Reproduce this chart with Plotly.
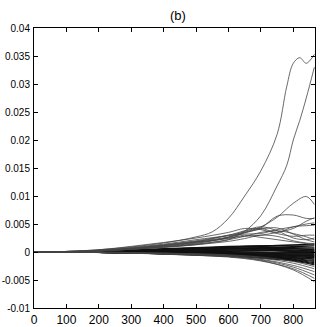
import plotly.graph_objects as go

# shared x grid for the dense band of curves
x_band = [0, 60, 100, 200, 300, 400, 500, 600, 700, 800, 865]

band_lines = [
    [0, 0, 0.00005, 0.0002, 0.0004, 0.0006, 0.0008, 0.0010, 0.0011, 0.0012, 0.0012],
    [0, 0, 0.00005, 0.00015, 0.0003, 0.0005, 0.0007, 0.0009, 0.0010, 0.0010, 0.0009],
    [0, 0, 0.00003, 0.00015, 0.0003, 0.0004, 0.0006, 0.0007, 0.0008, 0.0008, 0.0007],
    [0, 0, 0.00003, 0.0001, 0.00025, 0.0004, 0.0005, 0.0006, 0.0006, 0.0006, 0.0005],
    [0, 0, 0.00003, 0.0001, 0.0002, 0.0003, 0.0004, 0.0005, 0.0005, 0.0004, 0.0003],
    [0, 0, 0.00002, 0.0001, 0.0002, 0.0003, 0.0003, 0.0004, 0.0003, 0.0003, 0.0002],
    [0, 0, 0.00002, 0.00005, 0.0001, 0.0002, 0.0002, 0.0003, 0.0003, 0.0002, 0.0001],
    [0, 0, 0.00001, 0.00005, 0.0001, 0.0001, 0.0002, 0.0002, 0.0002, 0.0001, 0.0],
    [0, 0, 0.00001, 0.00003, 0.00005, 0.0001, 0.0001, 0.0001, 0.0, -0.0001, -0.0001],
    [0, 0, 0, 0, 0, 0, 0, 0, -0.0001, -0.0002, -0.0002],
    [0, 0, 0, 0, 0, 0, -0.0001, -0.0001, -0.0002, -0.0003, -0.0003],
    [0, 0, -0.00001, -0.00003, -0.00005, -0.0001, -0.0001, -0.0002, -0.0003, -0.0004, -0.0004],
    [0, 0, 0, -0.00002, -0.00005, -0.0001, -0.00015, -0.0002, -0.0004, -0.0005, -0.0005],
    [0, 0, -0.00001, -0.00003, -0.00008, -0.0001, -0.0002, -0.0003, -0.0004, -0.0006, -0.0006],
    [0, 0, -0.00001, -0.00005, -0.0001, -0.00015, -0.00025, -0.00035, -0.0005, -0.0006, -0.0007],
    [0, 0, -0.00002, -0.00005, -0.0001, -0.0002, -0.0003, -0.0004, -0.0005, -0.0007, -0.0008],
    [0, 0, -0.00002, -0.00005, -0.0001, -0.0002, -0.0003, -0.0004, -0.0006, -0.0008, -0.0009],
    [0, 0, -0.00002, -0.00006, -0.00012, -0.0002, -0.0003, -0.0005, -0.0007, -0.0009, -0.0010],
    [0, 0, -0.00002, -0.00007, -0.00013, -0.0002, -0.00035, -0.0005, -0.0007, -0.0010, -0.0012],
    [0, 0, -0.00003, -0.00008, -0.00015, -0.00025, -0.0004, -0.00055, -0.0008, -0.0011, -0.0013],
    [0, 0, -0.00003, -0.00008, -0.00015, -0.00025, -0.0004, -0.0006, -0.0009, -0.0012, -0.0015],
    [0, 0, -0.00003, -0.0001, -0.00017, -0.0003, -0.00045, -0.00065, -0.0009, -0.0013, -0.0017],
    [0, 0, -0.00003, -0.0001, -0.0002, -0.0003, -0.0005, -0.0007, -0.0010, -0.0014, -0.0019],
    [0, 0, -0.00003, -0.0001, -0.0002, -0.00035, -0.0005, -0.0007, -0.0010, -0.0015, -0.0021],
    [0, 0, -0.00004, -0.0001, -0.0002, -0.00035, -0.00055, -0.0008, -0.0011, -0.0016, -0.0023],
    [0, 0, 0.00005, 0.0002, 0.00035, 0.0005, 0.0007, 0.0009, 0.0011, 0.0013, 0.0014],
    [0, 0, 0.00005, 0.00015, 0.0003, 0.0005, 0.0006, 0.0008, 0.0007, 0.0006, 0.0004],
    [0, 0, 0.00004, 0.00012, 0.00025, 0.0004, 0.0005, 0.0006, 0.0004, 0.0001, -0.0001],
]

# curves that drift below the band near the end
low_lines = [
    [0, 0, -0.00003, -0.0001, -0.0002, -0.0003, -0.0005, -0.0008, -0.0015, -0.0032, -0.0053],
    [0, 0, -0.00003, -0.0001, -0.0002, -0.0004, -0.0006, -0.0009, -0.0016, -0.0030, -0.0047],
    [0, 0, 0, -0.0001, -0.0002, -0.0003, -0.0005, -0.0008, -0.0014, -0.0027, -0.0041],
    [0, 0, 0, -0.0001, -0.0002, -0.0003, -0.0004, -0.0007, -0.0013, -0.0024, -0.0035],
    [0, 0, 0, 0, -0.0001, -0.0002, -0.0004, -0.0006, -0.0011, -0.0020, -0.0030],
    [0, 0, 0, 0, -0.0001, -0.0002, -0.0003, -0.0005, -0.0009, -0.0017, -0.0026],
]

# curves that climb above the band
x_up = [0, 60, 100, 200, 300, 400, 500, 600, 650, 700, 750, 800, 840, 865]
up_lines = [
    [0, 0, 0, 0.0002, 0.0005, 0.0009, 0.0015, 0.0026, 0.0035, 0.0045, 0.0062, 0.0087, 0.0099, 0.0085],
    [0, 0, 0, 0.0002, 0.0006, 0.0011, 0.0018, 0.0030, 0.0035, 0.0043, 0.0064, 0.0066, 0.0060, 0.0060],
    [0, 0, 0, 0.0002, 0.0005, 0.0010, 0.0016, 0.0025, 0.0028, 0.0030, 0.0035, 0.0042, 0.0055, 0.0061],
    [0, 0, 0, 0.0003, 0.0007, 0.0013, 0.0020, 0.0029, 0.0032, 0.0033, 0.0040, 0.0045, 0.0050, 0.0052],
    [0, 0, 0, 0.0002, 0.0006, 0.0012, 0.0019, 0.0027, 0.0037, 0.0042, 0.0035, 0.0045, 0.0047, 0.0048],
    [0, 0, 0.0001, 0.0004, 0.0010, 0.0017, 0.0025, 0.0035, 0.0042, 0.0040, 0.0033, 0.0028, 0.0030, 0.0030],
    [0, 0, 0.0001, 0.0003, 0.0008, 0.0014, 0.0022, 0.0030, 0.0038, 0.0045, 0.0038, 0.0025, 0.0022, 0.0025],
    [0, 0, 0, 0.0002, 0.0006, 0.0011, 0.0017, 0.0026, 0.0034, 0.0041, 0.0043, 0.0032, 0.0022, 0.0018],
    [0, 0, 0, 0.0002, 0.0005, 0.0009, 0.0014, 0.0022, 0.0028, 0.0035, 0.0038, 0.0033, 0.0027, 0.0022],
    [0, 0, 0.0001, 0.0003, 0.0007, 0.0012, 0.0018, 0.0024, 0.0030, 0.0026, 0.0022, 0.0018, 0.0015, 0.0013],
    [0, 0, 0, 0.0002, 0.0005, 0.0008, 0.0013, 0.0019, 0.0024, 0.0030, 0.0028, 0.0020, 0.0016, 0.0015],
]

# the two large excursions
x_big = [0, 50, 100, 200, 300, 400, 500, 550, 600, 650, 700, 750, 780, 800, 820, 840, 865]
big_a = [0, 0, 0.0001, 0.0004, 0.0009, 0.0016, 0.0027, 0.0036, 0.0060, 0.0100, 0.0145,
         0.0210, 0.0296, 0.0337, 0.0347, 0.0337, 0.0353]
big_b = [0, 0, 0, 0.0002, 0.0005, 0.0009, 0.0013, 0.0017, 0.0022, 0.0037, 0.0065,
         0.0118, 0.0155, 0.0200, 0.0235, 0.0275, 0.0330]

y_ticks = [-0.01, -0.005, 0, 0.005, 0.01, 0.015, 0.02, 0.025, 0.03, 0.035, 0.04]
y_labels = ["-0.01", "-0.005", "0", "0.005", "0.01", "0.015", "0.02", "0.025", "0.03", "0.035", "0.04"]
x_ticks = [0, 100, 200, 300, 400, 500, 600, 700, 800]

FONT = "Liberation Sans, Arial, sans-serif"

fig = go.Figure()


def add_curve(xs, ys, color="#222222", width=0.8):
    fig.add_trace(
        go.Scatter(x=xs, y=ys, mode="lines", line=dict(color=color, width=width, shape="spline"),
                   showlegend=False, hoverinfo="skip")
    )


for ys in band_lines:
    add_curve(x_band, ys, color="#111111", width=1.1)
for ys in low_lines:
    add_curve(x_band, ys, color="#444444")
for ys in up_lines:
    add_curve(x_up, ys, color="#444444")
add_curve(x_big, big_a, color="#444444")
add_curve(x_big, big_b, color="#444444")

fig.update_layout(
    width=327,
    height=327,
    margin=dict(l=34, r=12, t=28, b=19, autoexpand=False),
    paper_bgcolor="white",
    plot_bgcolor="white",
    font=dict(family=FONT, color="black"),
    annotations=[
        dict(text="(b)", x=0.512, y=1, xref="paper", yref="paper", yanchor="middle", yshift=13,
             showarrow=False, font=dict(size=13, family=FONT, color="black"))
    ],
)
fig.update_xaxes(
    range=[0, 867],
    tickvals=x_ticks,
    ticks="inside",
    ticklen=4,
    tickcolor="black",
    showline=True,
    linecolor="black",
    linewidth=1,
    mirror="ticks",
    showgrid=False,
    zeroline=False,
    automargin=False,
    ticklabelstandoff=1,
    tickfont=dict(size=12, family=FONT, color="black"),
)
fig.update_yaxes(
    range=[-0.01, 0.04],
    tickvals=y_ticks,
    ticktext=y_labels,
    ticks="inside",
    ticklen=4,
    tickcolor="black",
    showline=True,
    linecolor="black",
    linewidth=1,
    mirror="ticks",
    showgrid=False,
    zeroline=False,
    automargin=False,
    ticklabelstandoff=1,
    tickfont=dict(size=10, family=FONT, color="black"),
)

# the page body has a default 8px margin; drop it so the figure sits at the corner
fig.write_html(
    "out.html",
    config={"displayModeBar": False},
    post_script="document.body.style.margin='0';",
)
